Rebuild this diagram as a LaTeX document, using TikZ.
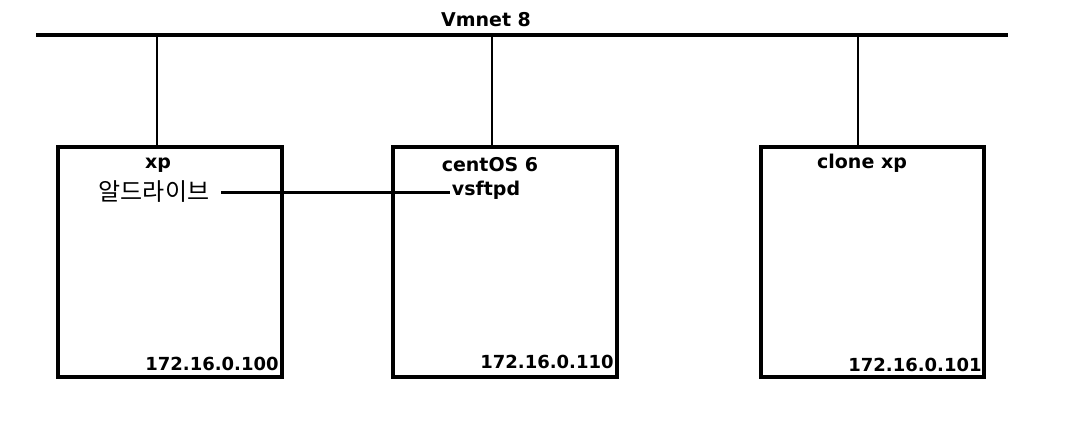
\documentclass[tikz,border=0pt]{standalone}
\usepackage{fontspec}
\setmainfont{DejaVu Sans}
\newfontfamily\kr{Noto Sans CJK KR}
\begin{document}
\begin{tikzpicture}[x=1pt,y=-1pt,
  hostbox/.style={draw=black,line width=3.3pt},
  lbl/.style={inner sep=0pt,font=\fontsize{19}{22}\selectfont\bfseries},
  iplbl/.style={inner sep=0pt,font=\fontsize{18}{21}\selectfont\bfseries},
  krlbl/.style={inner sep=0pt,font=\kr\fontsize{24}{27}\selectfont},
  bus/.style={line width=3.3pt},
  drop/.style={line width=2.4pt},
  link/.style={line width=3pt}]
\useasboundingbox[fill=white] (0,0) rectangle (1066,432);
% bus
\coordinate (busL) at (36,35);
\coordinate (busR) at (1008,35);
\draw[bus] (busL) -- (busR);
\node[lbl] (vmnet) at (486,20) {Vmnet 8};
% boxes
\draw[hostbox] (58,147) rectangle (282,377);
\draw[hostbox] (393,147) rectangle (617,377);
\draw[hostbox] (761,147) rectangle (984,377);
\coordinate (t1) at (157,35); \coordinate (b1) at (157,147);
\coordinate (t2) at (492,35); \coordinate (b2) at (492,147);
\coordinate (t3) at (858,35); \coordinate (b3) at (858,147);
\draw[drop] (t1) -- (b1);
\draw[drop] (t2) -- (b2);
\draw[drop] (t3) -- (b3);
% labels
\node[lbl] (xp) at (158,165) {xp};
\node[krlbl] (al) at (154,192) {알드라이브};
\node[lbl] (cent) at (490,165) {centOS 6};
\node[lbl] (vsf) at (486,190) {vsftpd};
\node[lbl] (clone) at (862,163) {clone xp};
\node[iplbl] (ip1) at (212,364) {172.16.0.100};
\node[iplbl] (ip2) at (547,362) {172.16.0.110};
\node[iplbl] (ip3) at (915,365) {172.16.0.101};
\draw[link] ([xshift=12pt]al.east |- 0,192) -- ([xshift=-2pt]vsf.west |- 0,192);
\end{tikzpicture}
\end{document}
